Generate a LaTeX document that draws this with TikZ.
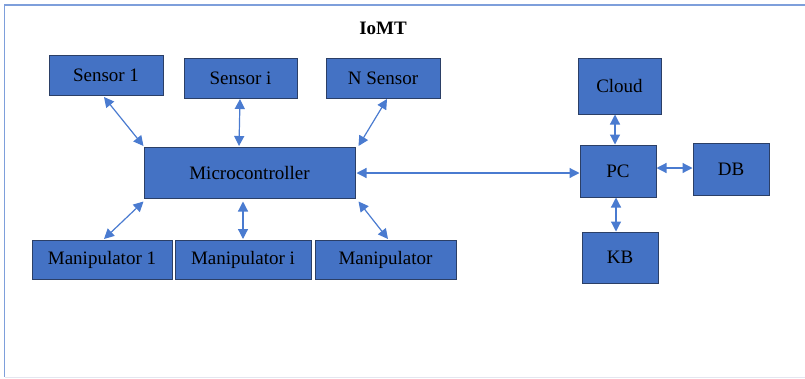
\documentclass[tikz,border=0pt]{standalone}
\usepackage{fontspec}
\setmainfont{Liberation Serif}
\usetikzlibrary{arrows.meta}
\definecolor{boxfill}{HTML}{4472C4}
\definecolor{boxline}{HTML}{2B3F66}
\definecolor{linkcol}{HTML}{4A7BD0}
\definecolor{framecol}{HTML}{7E9FDB}
\definecolor{basecol}{HTML}{E4E6F0}
\tikzset{
  txt/.style={font=\rmfamily\fontsize{19}{22}\selectfont},
  heading/.style={font=\rmfamily\bfseries\fontsize{19}{22}\selectfont},
  block/.style={txt, draw=boxline, line width=1pt, fill=boxfill, inner sep=0pt,
    text=black},
  link/.style={draw=linkcol, line width=1.2pt,
    {Triangle[length=10pt,width=10pt]}-{Triangle[length=10pt,width=10pt]}},
}
% place a block by its corners (pixels, y downwards)
\newcommand{\blk}[6]{%
  \node[block, minimum width={(#4-#2)*1pt}, minimum height={(#5-#3)*1pt}]
    (#1) at ({(#2+#4)/2}, {(#3+#5)/2}) {#6};}
\begin{document}
\begin{tikzpicture}[x=1pt, y=-1pt]
  \useasboundingbox (0,0) rectangle (805,378);
  % page frame
  \draw[framecol, line width=1.6pt] (805,5) -- (4.5,5) -- (4.5,377);
  \draw[basecol, line width=1pt] (5,377.5) -- (805,377.5);

  \node[heading] (title) at (383,28) {IoMT};

  % sensors
  \blk{s1}{49}{55}{163}{95}{Sensor 1}
  \blk{si}{184}{58}{297}{98}{Sensor i}
  \blk{sn}{326}{58}{440}{98}{N Sensor}
  % controller
  \blk{mc}{144}{147}{355}{198}{Microcontroller}
  % manipulators
  \blk{m1}{32}{240}{172}{279}{Manipulator 1}
  \blk{mi}{175}{240}{311}{279}{Manipulator i}
  \blk{mn}{315}{240}{456}{279}{Manipulator}
  % host side
  \blk{cloud}{578}{58}{661}{114}{Cloud}
  \blk{pc}{580}{145}{656}{197}{PC}
  \blk{db}{693}{143}{769}{195}{DB}
  \blk{kb}{582}{232}{658}{283}{KB}

  % links
  \draw[link] ([xshift=-2pt,yshift=-1.5pt]s1.south) -- ([yshift=0.5pt]mc.north west);
  \draw[link] ([xshift=-0.5pt,yshift=-0.5pt]si.south) -- ([xshift=-10.5pt,yshift=0.5pt]mc.north);
  \draw[link] ([xshift=4pt,yshift=-0.5pt]sn.south) -- ([xshift=3pt,yshift=0.5pt]mc.north east);
  \draw[link] ([yshift=-3pt]mc.south west) -- ([xshift=2pt,yshift=0.5pt]m1.north);
  \draw[link] ([xshift=-6.5pt,yshift=-3pt]mc.south) -- ([xshift=0pt,yshift=0.5pt]mi.north);
  \draw[link] ([xshift=3pt,yshift=-3pt]mc.south east) -- ([xshift=2.5pt,yshift=0.5pt]mn.north);
  \draw[link] ([xshift=1pt]mc.east |- 0,173) -- (pc.west |- 0,173);
  \draw[link] ([xshift=-4.5pt]cloud.south) -- ([xshift=-3pt]pc.north);
  \draw[link] (pc.east |- 0,168) -- (db.west |- 0,168);
  \draw[link] ([xshift=-2pt]pc.south) -- ([xshift=-4pt]kb.north);
\end{tikzpicture}
\end{document}
